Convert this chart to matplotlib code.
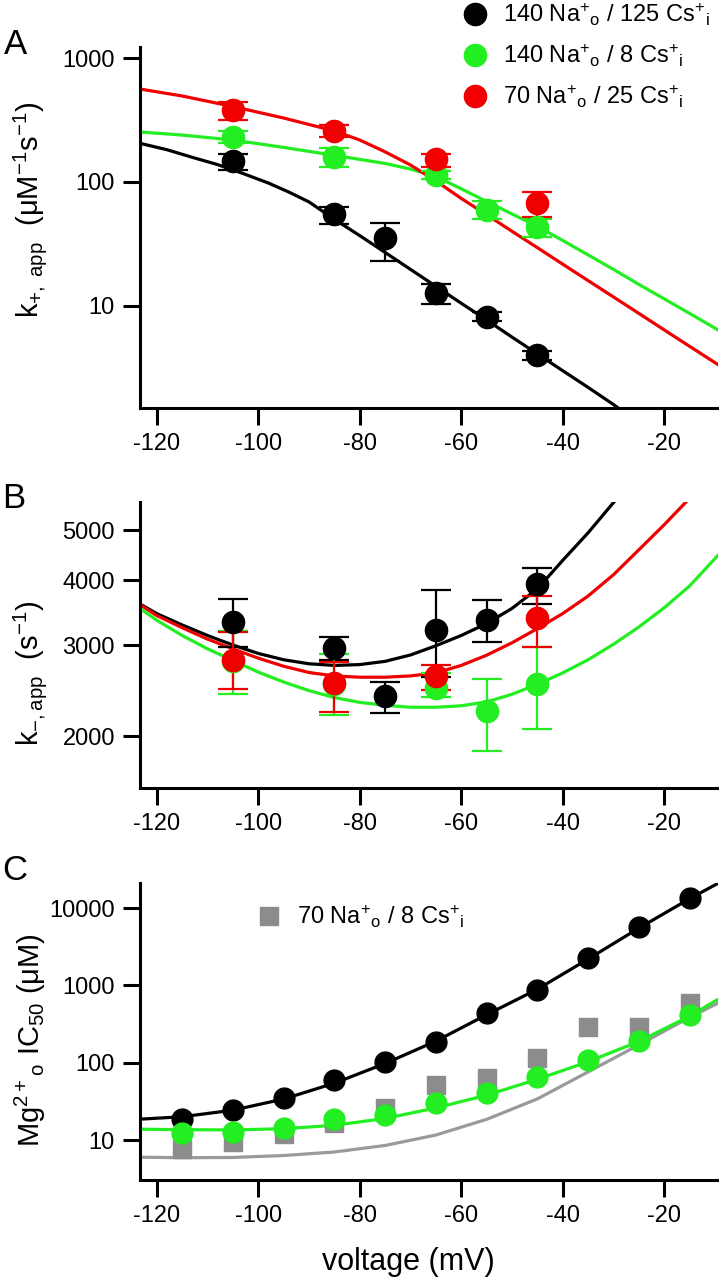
import matplotlib
matplotlib.use("Agg")
import matplotlib.pyplot as plt
from matplotlib.lines import Line2D
from matplotlib.ticker import FixedLocator, NullLocator, FixedFormatter

plt.rcParams["font.family"] = ["Liberation Sans", "DejaVu Sans"]
plt.rcParams["axes.unicode_minus"] = False
plt.rcParams["mathtext.fontset"] = "custom"
plt.rcParams["mathtext.rm"] = "Liberation Sans"
plt.rcParams["mathtext.it"] = "Liberation Sans"
plt.rcParams["mathtext.default"] = "regular"

BLACK = "#000000"
GREEN = "#22ee22"
RED = "#f00000"
GRAY = "#8c8c8c"
GRAYLINE = "#9a9a9a"

# ---------------- panel A : k+,app ----------------
vA_black = [-105, -85, -75, -65, -55, -45]
kA_black = [147, 55, 35, 12.7, 8.2, 4.0]
kA_black_lo = [22, 9, 12, 2.3, 0.7, 0.35]
kA_black_hi = [21, 8, 12, 2.3, 0.7, 0.35]

vA_green = [-105, -85, -65, -55, -45]
kA_green = [232, 159, 114, 59, 43]
kA_green_lo = [26, 27, 8, 9, 7]
kA_green_hi = [26, 29, 8, 11, 7]

vA_red = [-105, -85, -65, -45]
kA_red = [380, 258, 153, 68]
kA_red_lo = [64, 28, 20, 16]
kA_red_hi = [62, 32, 15, 15]

fitA_v_black = [-123.3, -118, -113, -108, -103, -98, -94, -90, -85, -80, -75, -70,
                -65, -60, -55, -50, -45, -40, -35, -30, -27]
fitA_black = [205, 182, 158, 138, 117, 98, 83, 69, 50, 36.9, 27, 19.7,
              14.4, 10.5, 7.7, 5.6, 4.1, 3.0, 2.2, 1.6, 1.3]

fitA_v = [-123.3, -115, -105, -95, -85, -75, -70, -65, -60, -55, -50, -45,
          -40, -35, -30, -25, -20, -15, -9.4]
fitA_green = [253, 239, 218, 190, 164, 141, 127, 111, 88, 69.6, 55.2, 43.8,
              33.7, 25.8, 19.7, 14.9, 11.4, 8.7, 6.4]
fitA_v_red = [-123.3, -115, -105, -95, -85, -80, -75, -70, -65, -60, -55, -50,
              -45, -40, -35, -30, -25, -20, -15, -9.4]
fitA_red = [562, 494, 406, 328, 258, 218, 175, 137, 102, 73.6, 54.4, 40.0,
            29.5, 21.7, 16.0, 11.8, 8.7, 6.4, 4.72, 3.36]

# ---------------- panel B : k-,app ----------------
vB_black = [-105, -85, -75, -65, -55, -45]
kB_black = [3330, 2954, 2390, 3212, 3360, 3926]
kB_black_lo = [360, 150, 168, 610, 318, 330]
kB_black_hi = [353, 156, 150, 614, 300, 290]

vB_green = [-105, -85, -65, -55, -45]
kB_green = [2800, 2520, 2473, 2238, 2520]
kB_green_lo = [382, 324, 91, 361, 455]
kB_green_hi = [390, 360, 177, 346, 454]

vB_red = [-105, -85, -65, -45]
kB_red = [2804, 2534, 2612, 3376]
kB_red_lo = [339, 307, 158, 402]
kB_red_hi = [368, 246, 139, 350]

fitB_v_black = [-123.3, -120, -115, -110, -105, -100, -95, -90, -85, -80, -75, -70,
                -65, -60, -55, -50, -45, -40, -35, -30, -25]
fitB_black = [3600, 3450, 3280, 3130, 3000, 2890, 2810, 2760, 2740, 2750, 2790, 2870,
              2990, 3130, 3300, 3530, 3850, 4370, 4940, 5650, 6400]
fitB_v = [-123.3, -120, -115, -110, -105, -100, -95, -90, -85, -80, -75, -70,
          -65, -60, -55, -50, -45, -40, -35, -30, -25, -20, -15, -9.4]
fitB_red = [3590, 3420, 3240, 3080, 2950, 2830, 2730, 2655, 2615, 2600, 2600, 2615,
            2650, 2740, 2867, 3030, 3227, 3450, 3730, 4100, 4580, 5120, 5760, 6500]
fitB_green = [3530, 3350, 3130, 2950, 2800, 2660, 2545, 2450, 2375, 2325, 2295, 2275,
              2275, 2290, 2330, 2410, 2520, 2650, 2810, 3010, 3250, 3540, 3900, 4470]

# ---------------- panel C : Mg IC50 ----------------
vC = [-115, -105, -95, -85, -75, -65, -55, -45, -35, -25, -15]
ic50_black = [18.5, 24.4, 34.6, 59.7, 103, 187, 436, 871, 2244, 5755, 13400]
ic50_green = [12.4, 12.8, 14.2, 18.5, 21.1, 30, 40.9, 65.9, 108, 191, 414]
ic50_gray = [7.6, 9.3, 11.9, 16.8, 26.2, 51.5, 62.9, 114, 292, 290, 587]

fitC_v = [-123.3, -115, -105, -95, -85, -75, -65, -55, -45, -35, -25, -15, -9.4]
fitC_black = [18.6, 20, 24.3, 33.9, 54.3, 97.7, 190, 417, 891, 2190, 5500, 13200, 20900]
fitC_green = [13.8, 13.6, 13.5, 14.0, 15.5, 19.0, 26, 38, 61, 103, 188, 400, 660]
fitC_gray = [6.0, 5.9, 5.95, 6.3, 7.0, 8.5, 11.6, 18.5, 34, 76, 170, 385, 590]

xticks = [-120, -100, -80, -60, -40, -20]
xlim = (-123.3, -9.4)

legend_labels = [r"140 Na$^{+}$$_{o}$ / 125 Cs$^{+}$$_{i}$",
                 r"140 Na$^{+}$$_{o}$ / 8 Cs$^{+}$$_{i}$",
                 r"70 Na$^{+}$$_{o}$ / 25 Cs$^{+}$$_{i}$"]
legend_C = r"70 Na$^{+}$$_{o}$ / 8 Cs$^{+}$$_{i}$"


def style_axes(ax, yticks, ylim):
    ax.set_yscale("log")
    ax.set_xlim(*xlim)
    ax.set_ylim(*ylim)
    for s in ["top", "right"]:
        ax.spines[s].set_visible(False)
    for s in ["left", "bottom"]:
        ax.spines[s].set_linewidth(2.2)
    ax.xaxis.set_major_locator(FixedLocator(xticks))
    ax.yaxis.set_major_locator(FixedLocator(yticks))
    ax.yaxis.set_major_formatter(FixedFormatter([str(t) for t in yticks]))
    ax.yaxis.set_minor_locator(NullLocator())
    ax.xaxis.set_minor_locator(NullLocator())
    ax.tick_params(direction="out", length=12, width=2.2, labelsize=17, pad=6)


def errpoints(ax, v, k, lo, hi, c, ms=16):
    ax.errorbar(v, k, yerr=[lo, hi], fmt="o", ms=ms, color=c, mec=c, ecolor=c,
                elinewidth=1.6, capsize=11, capthick=1.6, zorder=3)


fig = plt.figure(figsize=(7.19, 12.8), dpi=100)
L, W = 140 / 719, 578 / 719
axA = fig.add_axes([L, 1 - 408 / 1280, W, 361 / 1280])
axB = fig.add_axes([L, 1 - 788 / 1280, W, 286 / 1280])
axC = fig.add_axes([L, 1 - 1180 / 1280, W, 297 / 1280])

# A
axA.plot(fitA_v_black, fitA_black, color=BLACK, lw=2.3, zorder=2)
axA.plot(fitA_v, fitA_green, color=GREEN, lw=2.3, zorder=2)
axA.plot(fitA_v_red, fitA_red, color=RED, lw=2.3, zorder=2)
errpoints(axA, vA_black, kA_black, kA_black_lo, kA_black_hi, BLACK)
errpoints(axA, vA_green, kA_green, kA_green_lo, kA_green_hi, GREEN)
errpoints(axA, vA_red, kA_red, kA_red_lo, kA_red_hi, RED)
style_axes(axA, [10, 100, 1000], (1.50, 1227))
axA.set_ylabel(r"k$_{+,\ app}$  ($\mu$M$^{-1}$s$^{-1}$)", fontsize=21, va="center")
axA.yaxis.set_label_coords(-0.19, 0.55)
handles = [Line2D([], [], ls="none", marker="o", ms=16, color=c) for c in (BLACK, GREEN, RED)]
fig.legend(handles, legend_labels, loc="upper left", bbox_to_anchor=(463 / 719, 1.0),
           frameon=False, fontsize=17, handlelength=0.95, handletextpad=0.7,
           labelspacing=0.6, borderpad=0.05, borderaxespad=0)

# B
axB.plot(fitB_v_black, fitB_black, color=BLACK, lw=2.3, zorder=2)
axB.plot(fitB_v, fitB_red, color=RED, lw=2.3, zorder=2)
axB.plot(fitB_v, fitB_green, color=GREEN, lw=2.3, zorder=2)
errpoints(axB, vB_black, kB_black, kB_black_lo, kB_black_hi, BLACK)
errpoints(axB, vB_green, kB_green, kB_green_lo, kB_green_hi, GREEN)
errpoints(axB, vB_red, kB_red, kB_red_lo, kB_red_hi, RED)
style_axes(axB, [2000, 3000, 4000, 5000], (1589, 5665))
axB.set_ylabel(r"k$_{-,app}$  (s$^{-1}$)", fontsize=21, va="center")
axB.yaxis.set_label_coords(-0.19, 0.40)

# C
axC.plot(fitC_v, fitC_gray, color=GRAYLINE, lw=2.3, zorder=2)
axC.plot(fitC_v, fitC_black, color=BLACK, lw=2.3, zorder=2)
axC.plot(fitC_v, fitC_green, color=GREEN, lw=2.3, zorder=2)
axC.plot(vC, ic50_gray, ls="none", marker="s", ms=13.5, color=GRAY, zorder=3)
axC.plot(vC, ic50_black, ls="none", marker="o", ms=15, color=BLACK, zorder=3)
axC.plot(vC, ic50_green, ls="none", marker="o", ms=15, color=GREEN, zorder=3)
style_axes(axC, [10, 100, 1000, 10000], (3.04, 21100))
axC.set_ylabel(r"Mg$^{2+}$$_{o}$ IC$_{50}$ ($\mu$M)", fontsize=21, va="center")
axC.yaxis.set_label_coords(-0.19, 0.47)
axC.set_xlabel("voltage (mV)", fontsize=22, va="center")
axC.xaxis.set_label_coords(0.464, -0.275)
axC.legend([Line2D([], [], ls="none", marker="s", ms=13.5, color=GRAY)], [legend_C],
           loc="upper left", bbox_to_anchor=(257 / 719, 1 - 902 / 1280),
           bbox_transform=fig.transFigure, frameon=False, fontsize=17,
           handlelength=0.95, handletextpad=0.7, borderpad=0.05, borderaxespad=0)

# panel letters
fig.text(15 / 719, 1 - 44 / 1280, "A", fontsize=25, ha="center", va="center")
fig.text(14 / 719, 1 - 498 / 1280, "B", fontsize=25, ha="center", va="center")
fig.text(15 / 719, 1 - 870 / 1280, "C", fontsize=25, ha="center", va="center")

fig.savefig("out.png", dpi=100)
